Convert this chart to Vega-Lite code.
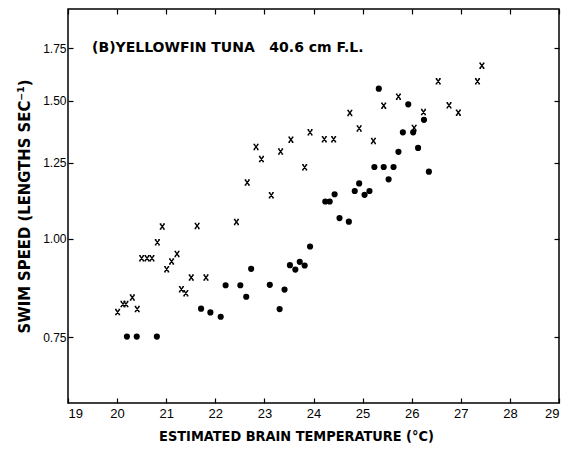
{
  "$schema": "https://vega.github.io/schema/vega-lite/v6.json",
  "width": 491,
  "height": 394,
  "autosize": {"type": "none"},
  "padding": {"left": 68, "top": 9, "right": 11, "bottom": 47},
  "background": "white",
  "config": {
    "view": {"stroke": "black", "strokeWidth": 1.5},
    "font": "Liberation Sans",
    "axis": {
      "grid": false,
      "domain": false,
      "zindex": 1,
      "ticks": true,
      "tickColor": "black",
      "tickWidth": 1.2,
      "tickSize": -5,
      "labelColor": "black",
      "labelFont": "Liberation Sans",
      "labelFontSize": 12,
      "titleColor": "black",
      "titleFont": "DejaVu Sans Condensed",
      "titleFontSize": 14.4,
      "titleFontWeight": "bold"
    }
  },
  "datasets": {
    "pts": [
      {"temp": 20.01, "speed": 0.807, "group": "cross"},
      {"temp": 20.12, "speed": 0.826, "group": "cross"},
      {"temp": 20.18, "speed": 0.826, "group": "cross"},
      {"temp": 20.31, "speed": 0.842, "group": "cross"},
      {"temp": 20.41, "speed": 0.814, "group": "cross"},
      {"temp": 20.50, "speed": 0.945, "group": "cross"},
      {"temp": 20.61, "speed": 0.945, "group": "cross"},
      {"temp": 20.71, "speed": 0.945, "group": "cross"},
      {"temp": 20.82, "speed": 0.990, "group": "cross"},
      {"temp": 20.92, "speed": 1.037, "group": "cross"},
      {"temp": 21.01, "speed": 0.915, "group": "cross"},
      {"temp": 21.11, "speed": 0.936, "group": "cross"},
      {"temp": 21.22, "speed": 0.957, "group": "cross"},
      {"temp": 21.31, "speed": 0.863, "group": "cross"},
      {"temp": 21.40, "speed": 0.853, "group": "cross"},
      {"temp": 21.51, "speed": 0.893, "group": "cross"},
      {"temp": 21.63, "speed": 1.039, "group": "cross"},
      {"temp": 21.81, "speed": 0.893, "group": "cross"},
      {"temp": 22.43, "speed": 1.051, "group": "cross"},
      {"temp": 22.65, "speed": 1.180, "group": "cross"},
      {"temp": 22.83, "speed": 1.310, "group": "cross"},
      {"temp": 22.94, "speed": 1.264, "group": "cross"},
      {"temp": 23.14, "speed": 1.137, "group": "cross"},
      {"temp": 23.33, "speed": 1.292, "group": "cross"},
      {"temp": 23.54, "speed": 1.338, "group": "cross"},
      {"temp": 23.82, "speed": 1.234, "group": "cross"},
      {"temp": 23.93, "speed": 1.367, "group": "cross"},
      {"temp": 24.22, "speed": 1.340, "group": "cross"},
      {"temp": 24.41, "speed": 1.340, "group": "cross"},
      {"temp": 24.74, "speed": 1.447, "group": "cross"},
      {"temp": 24.93, "speed": 1.383, "group": "cross"},
      {"temp": 25.22, "speed": 1.333, "group": "cross"},
      {"temp": 25.43, "speed": 1.478, "group": "cross"},
      {"temp": 25.73, "speed": 1.518, "group": "cross"},
      {"temp": 26.05, "speed": 1.385, "group": "cross"},
      {"temp": 26.24, "speed": 1.451, "group": "cross"},
      {"temp": 26.54, "speed": 1.588, "group": "cross"},
      {"temp": 26.76, "speed": 1.480, "group": "cross"},
      {"temp": 26.95, "speed": 1.448, "group": "cross"},
      {"temp": 27.34, "speed": 1.588, "group": "cross"},
      {"temp": 27.43, "speed": 1.662, "group": "cross"},
      {"temp": 20.20, "speed": 0.751, "group": "dot"},
      {"temp": 20.40, "speed": 0.751, "group": "dot"},
      {"temp": 20.81, "speed": 0.751, "group": "dot"},
      {"temp": 21.71, "speed": 0.815, "group": "dot"},
      {"temp": 21.90, "speed": 0.806, "group": "dot"},
      {"temp": 22.11, "speed": 0.796, "group": "dot"},
      {"temp": 22.21, "speed": 0.873, "group": "dot"},
      {"temp": 22.51, "speed": 0.873, "group": "dot"},
      {"temp": 22.63, "speed": 0.844, "group": "dot"},
      {"temp": 22.73, "speed": 0.916, "group": "dot"},
      {"temp": 23.11, "speed": 0.874, "group": "dot"},
      {"temp": 23.31, "speed": 0.814, "group": "dot"},
      {"temp": 23.41, "speed": 0.862, "group": "dot"},
      {"temp": 23.52, "speed": 0.926, "group": "dot"},
      {"temp": 23.63, "speed": 0.914, "group": "dot"},
      {"temp": 23.72, "speed": 0.935, "group": "dot"},
      {"temp": 23.82, "speed": 0.925, "group": "dot"},
      {"temp": 23.93, "speed": 0.978, "group": "dot"},
      {"temp": 24.24, "speed": 1.116, "group": "dot"},
      {"temp": 24.33, "speed": 1.116, "group": "dot"},
      {"temp": 24.43, "speed": 1.140, "group": "dot"},
      {"temp": 24.53, "speed": 1.063, "group": "dot"},
      {"temp": 24.72, "speed": 1.052, "group": "dot"},
      {"temp": 24.84, "speed": 1.151, "group": "dot"},
      {"temp": 24.93, "speed": 1.177, "group": "dot"},
      {"temp": 25.04, "speed": 1.138, "group": "dot"},
      {"temp": 25.14, "speed": 1.151, "group": "dot"},
      {"temp": 25.24, "speed": 1.235, "group": "dot"},
      {"temp": 25.33, "speed": 1.554, "group": "dot"},
      {"temp": 25.43, "speed": 1.235, "group": "dot"},
      {"temp": 25.53, "speed": 1.191, "group": "dot"},
      {"temp": 25.63, "speed": 1.235, "group": "dot"},
      {"temp": 25.73, "speed": 1.291, "group": "dot"},
      {"temp": 25.82, "speed": 1.367, "group": "dot"},
      {"temp": 25.93, "speed": 1.484, "group": "dot"},
      {"temp": 26.03, "speed": 1.367, "group": "dot"},
      {"temp": 26.13, "speed": 1.306, "group": "dot"},
      {"temp": 26.25, "speed": 1.418, "group": "dot"},
      {"temp": 26.35, "speed": 1.218, "group": "dot"}
    ],
    "note": [
      {"temp": 19.49, "speed": 1.75, "label": "(B)YELLOWFIN TUNA\u00a0\u00a0\u00a040.6 cm F.L."}
    ]
  },
  "layer": [
    {
      "data": {"name": "pts"},
      "transform": [{"filter": "datum.group === 'dot'"}],
      "mark": {"type": "point", "shape": "circle", "filled": true, "color": "black", "size": 38, "opacity": 1},
      "encoding": {
        "x": {
          "field": "temp", "type": "quantitative",
          "scale": {"domain": [19, 29], "nice": false, "zero": false},
          "axis": {"orient": "bottom", "values": [19, 20, 21, 22, 23, 24, 25, 26, 27, 28, 29], "labelPadding": 9, "labelFontSize": 13, "title": "ESTIMATED BRAIN TEMPERATURE (°C)", "titlePadding": 9, "titleX": 228, "titleAnchor": null, "titleAlign": "center"}
        },
        "y": {
          "field": "speed", "type": "quantitative",
          "scale": {"type": "log", "domain": [0.618, 1.963], "nice": false, "zero": false},
          "axis": {"orient": "left", "values": [0.75, 1.0, 1.25, 1.5, 1.75], "format": ".2f", "labelPadding": 7, "title": "SWIM SPEED (LENGTHS SEC⁻¹)", "titleFontSize": 16.5, "titlePadding": 10}
        }
      }
    },
    {
      "data": {"name": "pts"},
      "transform": [{"filter": "datum.group === 'cross'"}],
      "mark": {"type": "point", "shape": "M-0.75,-1L0.75,1M0.75,-1L-0.75,1M-1,-1H-0.35M0.35,-1H1M-1,1H-0.35M0.35,1H1", "filled": false, "stroke": "black", "strokeWidth": 1.4, "size": 26, "opacity": 1},
      "encoding": {
        "x": {"field": "temp", "type": "quantitative", "axis": null},
        "y": {"field": "speed", "type": "quantitative", "axis": null}
      }
    },
    {
      "data": {"name": "note"},
      "mark": {"type": "text", "align": "left", "baseline": "middle", "font": "DejaVu Sans", "fontSize": 14, "fontWeight": "bold", "color": "black"},
      "encoding": {
        "x": {"field": "temp", "type": "quantitative", "axis": {"orient": "top", "values": [19, 20, 21, 22, 23, 24, 25, 26, 27, 28, 29], "labels": false, "title": null}},
        "y": {"field": "speed", "type": "quantitative", "axis": {"orient": "right", "values": [0.75, 1.0, 1.25, 1.5, 1.75], "labels": false, "title": null}},
        "text": {"field": "label"}
      }
    }
  ],
  "resolve": {"axis": {"x": "independent", "y": "independent"}}
}
